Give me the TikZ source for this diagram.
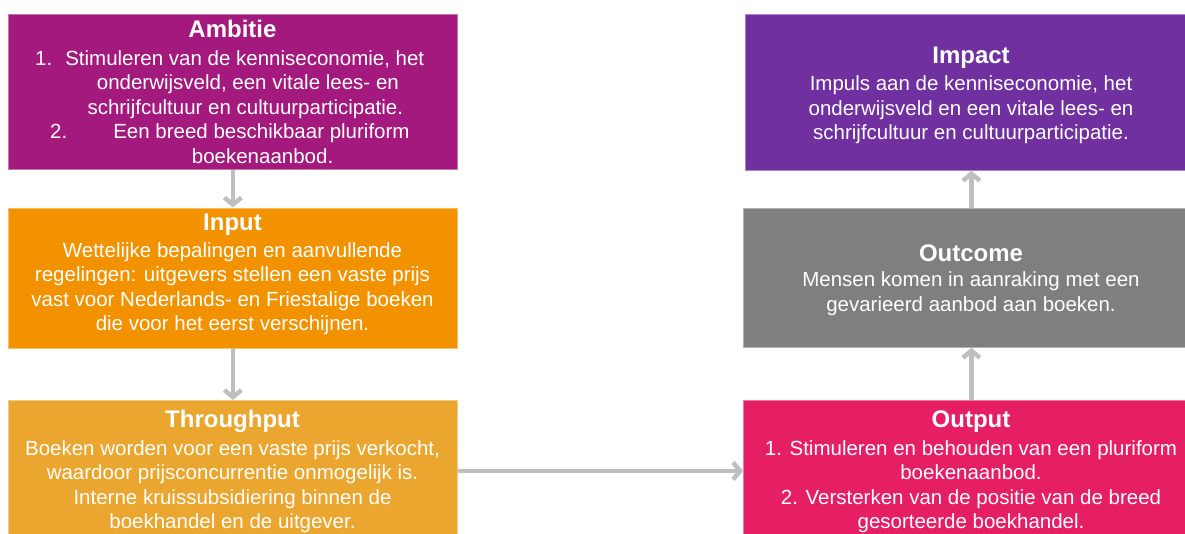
\documentclass[tikz,border=0pt]{standalone}
\usepackage{fontspec}
\setmainfont{Liberation Sans}
\usetikzlibrary{arrows.meta}
\definecolor{cAmb}{HTML}{A3197D}
\definecolor{cInp}{HTML}{F39200}
\definecolor{cThr}{HTML}{EAA62E}
\definecolor{cImp}{HTML}{7030A0}
\definecolor{cOutc}{HTML}{7F7F7F}
\definecolor{cOutp}{HTML}{E61E64}
\definecolor{cArr}{HTML}{BFBFBF}
\tikzset{
  box/.style={rectangle, anchor=north west, inner sep=0pt, fill=#1, draw=#1!60!white, line width=0.8pt},
  ttl/.style={anchor=base, text=white, inner sep=0pt, font=\fontsize{24}{28}\bfseries\selectfont},
  bdy/.style={anchor=north, text=white, inner sep=0pt, align=center, font=\fontsize{20.5}{24.5}\selectfont},
  arr/.style={draw=cArr, line width=4.5pt, -{Straight Barb[length=7pt,width=17pt]}}
}
\begin{document}
\begin{tikzpicture}[x=1pt,y=-1pt]
\clip (0,0) rectangle (1185,533);
\fill[white] (0,0) rectangle (1185,533);
% boxes
\node[box=cAmb, minimum width=449pt, minimum height=155pt] (amb) at (8,14) {};
\node[box=cInp, minimum width=449pt, minimum height=140pt] (inp) at (8,207.5) {};
\node[box=cThr, minimum width=449pt, minimum height=141pt] (thr) at (8,400) {};
\node[box=cImp, minimum width=452pt, minimum height=156pt] (imp) at (745,14) {};
\node[box=cOutc, minimum width=456pt, minimum height=139pt] (outc) at (743,208) {};
\node[box=cOutp, minimum width=456pt, minimum height=141pt] (outp) at (743,400) {};
% arrows
\draw[arr] (amb.south) -- (inp.north);
\draw[arr] (inp.south) -- (thr.north);
\draw[arr] (thr.east) -- (outp.west);
\draw[arr] (outp.north) -- (outc.south);
\draw[arr] (outc.north) -- (imp.south);
% texts
\node[ttl] (tAmb) at (232.5,37.3) {Ambitie};
\node[bdy, anchor=north west, align=left] (bAmb) at (35,47.85) {\strut 1.\hspace{13pt}Stimuleren van de kenniseconomie, het\\
\hspace*{61.7pt}onderwijsveld, een vitale lees- en\\
\hspace*{52.3pt}schrijfcultuur en cultuurparticipatie.\\
\hspace*{15pt}2.\hspace{46pt}Een breed beschikbaar pluriform\\
\hspace*{156.7pt}boekenaanbod.};
\node[ttl] (tInp) at (232.5,230.7) {Input};
\node[bdy] (bInp) at (232.5,239.85) {\strut Wettelijke bepalingen en aanvullende\\
regelingen: uitgevers stellen een vaste prijs\\
vast voor Nederlands- en Friestalige boeken\\
die voor het eerst verschijnen.};
\node[ttl] (tThr) at (232.5,427.3) {Throughput};
\node[bdy] (bThr) at (232.5,437.85) {\strut Boeken worden voor een vaste prijs verkocht,\\
waardoor prijsconcurrentie onmogelijk is.\\
Interne kruissubsidiering binnen de\\
boekhandel en de uitgever.};
\node[ttl] (tImp) at (971,63.3) {Impact};
\node[bdy] (bImp) at (971,73.55) {\strut Impuls aan de kenniseconomie, het\\
onderwijsveld en een vitale lees- en\\
schrijfcultuur en cultuurparticipatie.};
\node[ttl] (tOutc) at (971,261) {Outcome};
\node[bdy] (bOutc) at (971,269.55) {\strut Mensen komen in aanraking met een\\
gevarieerd aanbod aan boeken.};
\node[ttl] (tOutp) at (971,427.3) {Output};
\node[bdy] (bOutp) at (971,437.85) {\strut 1. Stimuleren en behouden van een pluriform\\
boekenaanbod.\\
2. Versterken van de positie van de breed\\
gesorteerde boekhandel.};
\end{tikzpicture}
\end{document}
